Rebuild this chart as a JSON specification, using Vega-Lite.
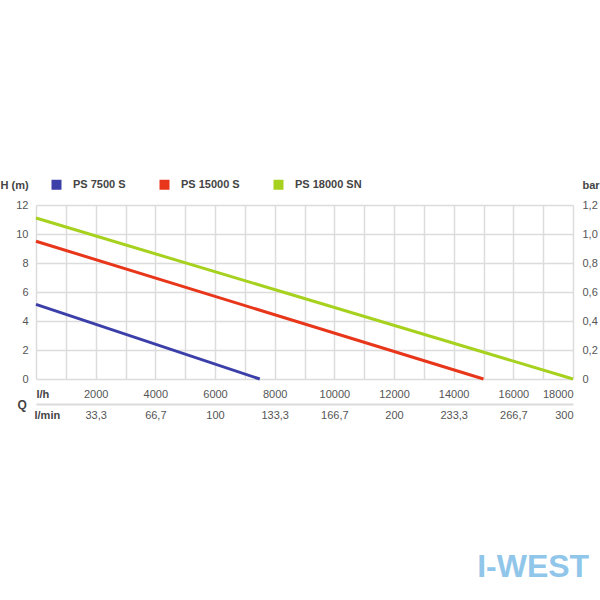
{
  "$schema": "https://vega.github.io/schema/vega-lite/v6.json",
  "width": 537,
  "height": 174,
  "autosize": "none",
  "padding": {"left": 36, "top": 205, "right": 27, "bottom": 221},
  "background": "white",
  "config": {
    "font": "Liberation Sans",
    "view": {"stroke": null},
    "axis": {"labelFont": "Liberation Sans", "labelFontSize": 11, "labelColor": "#555", "titleFont": "Liberation Sans", "titleFontSize": 11, "titleColor": "#444", "titleFontWeight": "bold", "gridColor": "#dcdcdc", "gridWidth": 1.5, "domainColor": "#dcdcdc", "ticks": false}
  },
  "title": {
    "text": "I-WEST",
    "orient": "bottom",
    "anchor": "end",
    "fontSize": 32,
    "fontWeight": "bold",
    "color": "#8fc6ea",
    "offset": 132,
    "dx": -10
  },
  "data": {
    "values": [
      {"series": "PS 7500 S", "q": 0, "h": 5.15},
      {"series": "PS 7500 S", "q": 7500, "h": 0},
      {"series": "PS 15000 S", "q": 0, "h": 9.5},
      {"series": "PS 15000 S", "q": 15000, "h": 0},
      {"series": "PS 18000 SN", "q": 0, "h": 11.1},
      {"series": "PS 18000 SN", "q": 18000, "h": 0}
    ]
  },
  "resolve": {"axis": {"x": "independent", "y": "independent"}},
  "layer": [
    {
      "mark": {"type": "line", "strokeWidth": 3},
      "encoding": {
        "x": {
          "field": "q",
          "type": "quantitative",
          "scale": {"domain": [0, 18000], "nice": false},
          "axis": {
            "values": [0, 1000, 2000, 3000, 4000, 5000, 6000, 7000, 8000, 9000, 10000, 11000, 12000, 13000, 14000, 15000, 16000, 17000, 18000],
            "format": "d",
            "labelExpr": "datum.value % 2000 == 0 && datum.value > 0 ? datum.label : ''",
            "labelPadding": 9,
            "labelBaseline": "top",
            "grid": true,
            "domain": false,
            "title": "l/h",
            "titleX": 0,
            "titleY": 15,
            "titleAlign": "left",
            "titleBaseline": "middle"
          }
        },
        "y": {
          "field": "h",
          "type": "quantitative",
          "scale": {"domain": [0, 12], "nice": false},
          "axis": {
            "values": [0, 2, 4, 6, 8, 10, 12],
            "labelPadding": 8,
            "grid": true,
            "domain": false,
            "title": "H (m)",
            "titleAngle": 0,
            "titleX": -36,
            "titleY": -20,
            "titleAlign": "left",
            "titleBaseline": "middle"
          }
        },
        "color": {
          "field": "series",
          "type": "nominal",
          "sort": null,
          "scale": {"domain": ["PS 7500 S", "PS 15000 S", "PS 18000 SN"], "range": ["#3d3fa8", "#e8361b", "#a6d11e"]},
          "legend": {
            "orient": "none",
            "direction": "horizontal",
            "legendX": 15,
            "legendY": -26,
            "title": null,
            "symbolType": "square",
            "symbolSize": 16,
            "symbolStrokeWidth": 6,
            "labelFontWeight": "bold",
            "labelFontSize": 11,
            "labelColor": "#444",
            "labelOffset": 11,
            "columnPadding": 24
          }
        }
      }
    },
    {
      "mark": {"type": "point", "opacity": 0},
      "encoding": {
        "x": {
          "field": "q",
          "type": "quantitative",
          "axis": {
            "orient": "bottom",
            "offset": 25,
            "values": [0, 2000, 4000, 6000, 8000, 10000, 12000, 14000, 16000, 18000],
            "labelExpr": "datum.value == 0 ? '' : datum.value % 6000 == 0 ? format(datum.value / 60, 'd') : replace(format(datum.value / 60, '.1f'), '.', ',')",
            "labelPadding": 5,
            "labelBaseline": "top",
            "grid": false,
            "domain": true,
            "domainWidth": 2,
            "title": "l/min",
            "titleX": -2,
            "titleY": 11,
            "titleAlign": "left",
            "titleBaseline": "middle"
          }
        },
        "y": {
          "field": "h",
          "type": "quantitative",
          "axis": {
            "orient": "right",
            "values": [0, 2, 4, 6, 8, 10, 12],
            "labelExpr": "datum.value == 0 ? '0' : replace(format(datum.value / 10, '.1f'), '.', ',')",
            "labelPadding": 9,
            "grid": false,
            "domain": false,
            "title": "bar",
            "titleAngle": 0,
            "titleX": 9,
            "titleY": -20,
            "titleAlign": "left",
            "titleBaseline": "middle"
          }
        }
      }
    },
    {
      "mark": {"type": "point", "opacity": 0},
      "encoding": {
        "x": {
          "field": "q",
          "type": "quantitative",
          "axis": {
            "orient": "bottom",
            "offset": 25,
            "labels": false,
            "grid": false,
            "domain": false,
            "title": "Q",
            "titleFontSize": 12,
            "titleX": -19,
            "titleY": 0,
            "titleAlign": "left",
            "titleBaseline": "middle"
          }
        }
      }
    }
  ]
}
